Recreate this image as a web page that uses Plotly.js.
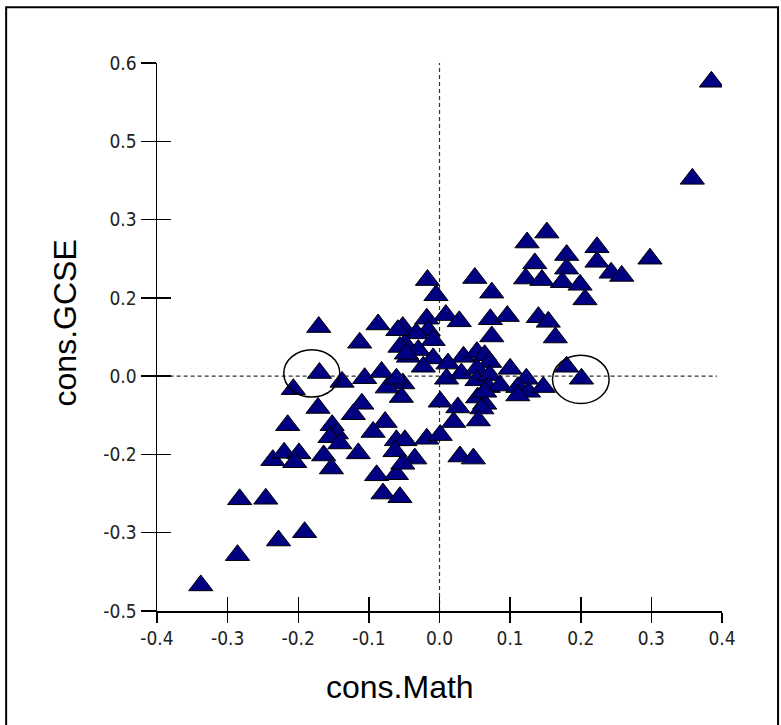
<!DOCTYPE html>
<html>
<head>
<meta charset="utf-8">
<script src="https://cdn.plot.ly/plotly-3.0.1.min.js"></script>
<style>html,body{margin:0;padding:0;background:#fff;}#chart{width:781px;height:725px;}</style>
</head>
<body>
<div id="chart"></div>
<script>
// cons.Math values (x)
const mathX = [
 0.385, 0.358, 0.298, 0.152, 0.124, 0.223, 0.180, 0.135, 0.223, 0.180,
 0.243, 0.258, 0.122, 0.145, 0.174, 0.199, 0.206, 0.050, 0.074, -0.017,
 -0.005, 0.009, 0.028, 0.072, 0.096, 0.140, 0.154, 0.074, 0.164, -0.018,
 -0.016, -0.052, -0.033, -0.009, -0.049, -0.030, -0.044, -0.009, 0.034, 0.053,
 0.064, 0.071, 0.100, -0.023, 0.012, 0.010, 0.031, 0.053, 0.053, 0.071,
 0.069, 0.086, 0.123, 0.111, 0.126, 0.147, -0.052, -0.054, 0.001, 0.026,
 0.054, 0.064, 0.180, 0.201, -0.171, -0.087, -0.113, -0.170, -0.207, -0.138,
 -0.106, -0.082, -0.074, -0.061, -0.059, -0.056, -0.047, -0.172, -0.215, -0.110,
 -0.122, -0.077, -0.094, -0.152, -0.146, -0.155, -0.141, -0.164, -0.115, -0.153,
 -0.236, -0.220, -0.199, -0.205, -0.089, -0.061, -0.049, -0.063, -0.035, -0.018,
 -0.061, -0.080, -0.056, -0.283, -0.246, -0.228, -0.191, -0.286, -0.338, 0.060,
 0.055, 0.020, 0.001, 0.029, 0.048, -0.052, 0.111, 0.064
];
// cons.GCSE values (y)
const gcseY = [
 0.564, 0.378, 0.225, 0.275, 0.256, 0.247, 0.232, 0.216, 0.219, 0.206,
 0.198, 0.192, 0.187, 0.184, 0.180, 0.175, 0.147, 0.188, 0.160, 0.184,
 0.155, 0.117, 0.105, 0.109, 0.115, 0.113, 0.104, 0.076, 0.074, 0.110,
 0.088, 0.094, 0.082, 0.069, 0.062, 0.050, 0.037, 0.034, 0.037, 0.046,
 0.040, 0.027, 0.014, 0.018, 0.024, -0.005, 0.005, 0.014, -0.008, 0.002,
 -0.021, -0.018, -0.005, -0.021, -0.030, -0.021, -0.014, -0.040, -0.049, -0.060,
 -0.041, -0.053, 0.018, -0.005, 0.094, 0.099, 0.064, 0.006, -0.025, -0.011,
 -0.004, 0.008, -0.022, -0.005, 0.088, 0.056, 0.043, -0.061, -0.094, -0.053,
 -0.073, -0.088, -0.107, -0.094, -0.110, -0.117, -0.129, -0.152, -0.148, -0.177,
 -0.161, -0.147, -0.148, -0.165, -0.190, -0.123, -0.123, -0.144, -0.158, -0.120,
 -0.188, -0.225, -0.232, -0.236, -0.235, -0.315, -0.299, -0.343, -0.401, -0.062,
 -0.085, -0.088, -0.113, -0.154, -0.158, -0.168, -0.037, -0.030
];
// axis ticks
const xTickVals = [-0.4, -0.3, -0.2, -0.1, 0.0, 0.1, 0.2, 0.3, 0.4];
const xTickText = ['-0.4', '-0.3', '-0.2', '-0.1', '0.0', '0.1', '0.2', '0.3', '0.4'];
const yTickVals = [-0.45, -0.3, -0.15, 0.0, 0.15, 0.3, 0.45, 0.6];
const yTickText = ['-0.5', '-0.3', '-0.2', '0.0', '0.2', '0.3', '0.5', '0.6'];
const xRange = [-0.4, 0.4];
const yRange = [-0.45, 0.6];
const xTitle = 'cons.Math';
const yTitle = 'cons.GCSE';

const tickFont = {family: 'Liberation Sans Narrow, "DejaVu Sans Condensed", "Arial Narrow", sans-serif', size: 19, color: '#222'};
const titleFont = {family: 'Liberation Sans, Arial, sans-serif', size: 32, color: '#000'};

const traces = [
  {
    type: 'scatter', mode: 'markers', x: mathX, y: gcseY,
    marker: {symbol: 'triangle-up', size: 21, color: '#000080', line: {color: '#000', width: 1}},
    showlegend: false, hoverinfo: 'x+y'
  },
  {type: 'scatter', mode: 'markers', x: [], y: [], xaxis: 'x2', yaxis: 'y2', showlegend: false}
];

const layout = {
  width: 781, height: 725,
  margin: {l: 157, r: 59, t: 63, b: 114},
  paper_bgcolor: '#fff', plot_bgcolor: '#fff',
  showlegend: false,
  xaxis: {
    range: xRange, tickvals: xTickVals, ticktext: xTickText,
    showline: true, linecolor: '#000', linewidth: 1.5, mirror: false,
    ticks: 'outside', ticklen: 10, tickwidth: 1.5, tickcolor: '#000',
    showgrid: false, zeroline: false, tickfont: tickFont
  },
  xaxis2: {
    overlaying: 'x', anchor: 'y', range: xRange, tickvals: xTickVals,
    ticks: 'inside', ticklen: 14, tickwidth: 1.5, tickcolor: '#000',
    showticklabels: false, showline: false, showgrid: false, zeroline: false
  },
  yaxis: {
    range: yRange, tickvals: yTickVals, ticktext: yTickText,
    showline: true, linecolor: '#000', linewidth: 1.5,
    ticks: 'outside', ticklen: 15, tickwidth: 1.5, tickcolor: '#000',
    showgrid: false, zeroline: false, tickfont: tickFont
  },
  yaxis2: {
    overlaying: 'y', anchor: 'x', range: yRange, tickvals: yTickVals,
    ticks: 'inside', ticklen: 14, tickwidth: 1.5, tickcolor: '#000',
    showticklabels: false, showline: false, showgrid: false, zeroline: false
  },
  annotations: [
    {text: xTitle, xref: 'paper', yref: 'paper', x: 0.4298, y: -0.139, xanchor: 'center', yanchor: 'middle',
     showarrow: false, font: titleFont},
    {text: yTitle, xref: 'paper', yref: 'paper', x: -0.1626, y: 0.525, xanchor: 'center', yanchor: 'middle',
     textangle: -90, showarrow: false, font: titleFont}
  ],
  shapes: [
    {type: 'line', xref: 'x', yref: 'y', x0: 0, x1: 0, y0: yRange[0], y1: yRange[1], layer: 'below',
     line: {color: '#333', width: 1.2, dash: '4px,3px'}},
    {type: 'line', xref: 'x', yref: 'y', x0: -0.392, x1: 0.393, y0: 0, y1: 0, layer: 'below',
     line: {color: '#333', width: 1.2, dash: '4px,3px'}},
    {type: 'circle', xref: 'x', yref: 'y', x0: -0.2205, x1: -0.1412, y0: -0.040, y1: 0.0508, layer: 'above',
     line: {color: '#000', width: 1.5}},
    {type: 'circle', xref: 'x', yref: 'y', x0: 0.160, x1: 0.2402, y0: -0.0526, y1: 0.040, layer: 'above',
     line: {color: '#000', width: 1.5}},
    {type: 'rect', xref: 'paper', yref: 'paper', x0: -0.267, x1: 1.0992, y0: -0.25, y1: 1.1016, layer: 'above',
     line: {color: '#000', width: 2}}
  ]
};

Plotly.newPlot('chart', traces, layout, {displayModeBar: false, staticPlot: true});
</script>
</body>
</html>
